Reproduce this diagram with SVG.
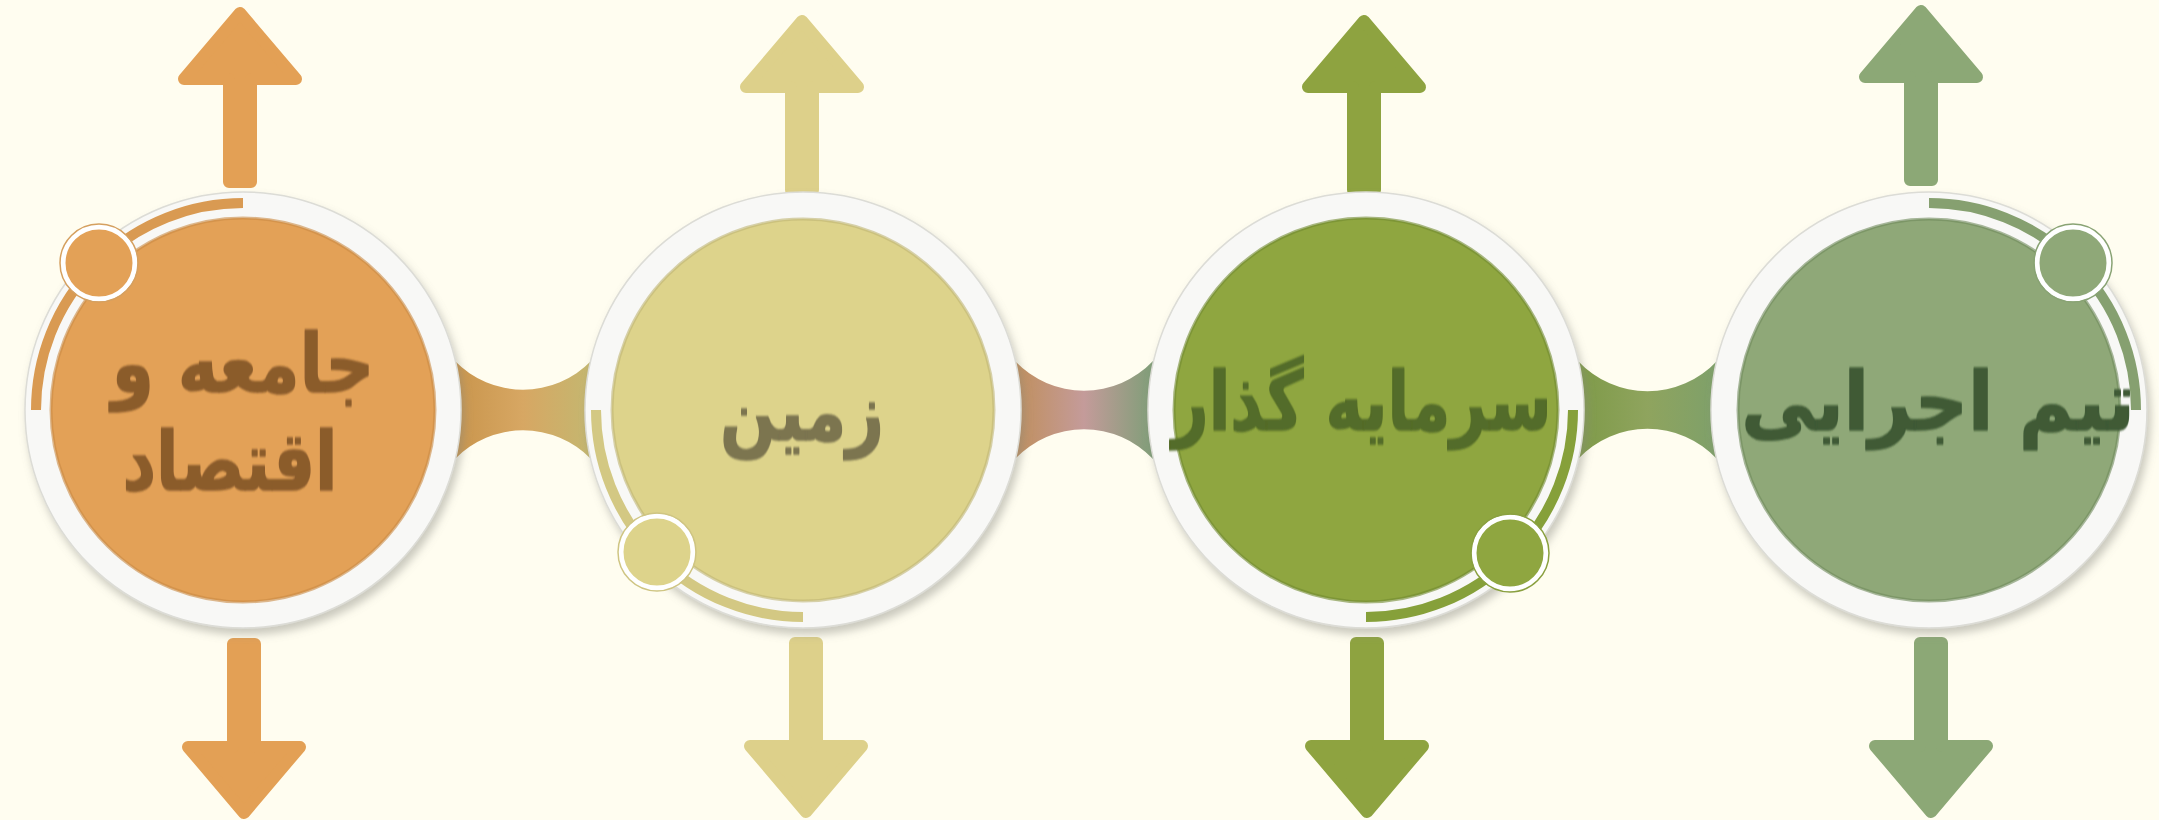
<svg xmlns="http://www.w3.org/2000/svg" xmlns:xlink="http://www.w3.org/1999/xlink" width="2159" height="820" viewBox="0 0 2159 820">
  <style>
    .ring { fill: #f8f8f6; stroke: #dcdcd6; stroke-width: 1.5; }
    .label { font-family: "DejaVu Sans", "Noto Sans", sans-serif; font-weight: bold; text-anchor: middle; font-size: 82px; stroke-width: 1.5; stroke-linejoin: round; }
    .arc { fill: none; stroke-width: 10; }
    .knobEdge { fill: none; stroke-width: 5; stroke: #ffffff; }
  </style>
  <defs>
    <filter id="plateShadow" x="-20%" y="-20%" width="140%" height="140%">
      <feDropShadow dx="3" dy="6" stdDeviation="4" flood-color="#8a8a80" flood-opacity="0.45"/>
    </filter>
    <filter id="textSoft" x="-10%" y="-20%" width="120%" height="140%">
      <feGaussianBlur stdDeviation="0.8"/>
    </filter>
    <path id="arrowUp" d="M0,6 L56,72 L11,72 L11,175 L-11,175 L-11,72 L-56,72 Z" stroke-width="12" stroke-linejoin="round"/>
    <linearGradient id="g1" x1="0" y1="0" x2="1" y2="0">
      <stop offset="0" stop-color="#c9954c"/>
      <stop offset="0.5" stop-color="#d7a763"/>
      <stop offset="1" stop-color="#c4b770"/>
    </linearGradient>
    <linearGradient id="g2" x1="0" y1="0" x2="1" y2="0">
      <stop offset="0" stop-color="#c08f5c"/>
      <stop offset="0.5" stop-color="#c49b9a"/>
      <stop offset="1" stop-color="#7f9e78"/>
    </linearGradient>
    <linearGradient id="g3" x1="0" y1="0" x2="1" y2="0">
      <stop offset="0" stop-color="#7e9a48"/>
      <stop offset="0.5" stop-color="#8fa45e"/>
      <stop offset="1" stop-color="#7ea06a"/>
    </linearGradient>
  </defs>

  <rect width="2159" height="820" fill="#fffdf0"/>

  <g id="connectors">
    <path d="M455,361 A95,95 0 0 0 591,361 L591,459 A95,95 0 0 0 455,459 Z" fill="url(#g1)"/>
    <path d="M1015,361 A95,95 0 0 0 1153,361 L1153,459 A95,95 0 0 0 1015,459 Z" fill="url(#g2)"/>
    <path d="M1578,361 A95,95 0 0 0 1717,361 L1717,459 A95,95 0 0 0 1578,459 Z" fill="url(#g3)"/>
  </g>

  <g id="node-1">
    <use xlink:href="#arrowUp" href="#arrowUp" transform="translate(240,7)" fill="#e3a055" stroke="#e3a055"/>
    <use xlink:href="#arrowUp" href="#arrowUp" transform="translate(244,819) scale(1,-1)" fill="#e3a055" stroke="#e3a055"/>
    <circle class="ring" cx="243" cy="410" r="218" filter="url(#plateShadow)"/>
    <path class="arc" d="M243,203 A207,207 0 0 0 36,410" stroke="#d99a52"/>
    <circle cx="243" cy="410" r="192" fill="#e3a157" stroke="#c98a45" stroke-width="3" stroke-opacity="0.6"/>
    <circle cx="99" cy="263" r="36" fill="#e3a157"/>
    <circle class="knobEdge" cx="99" cy="263" r="36"/>
    <circle cx="99" cy="263" r="39" fill="none" stroke="#d5a060" stroke-width="1.5"/>
    <text class="label" transform="translate(243,392) scale(0.83,1)" fill="#8b5c2c" stroke="#8b5c2c" filter="url(#textSoft)">جامعه و</text>
    <text class="label" transform="translate(230,490) scale(0.8,1)" fill="#8b5c2c" stroke="#8b5c2c" filter="url(#textSoft)">اقتصاد</text>
  </g>

  <g id="node-2">
    <use xlink:href="#arrowUp" href="#arrowUp" transform="translate(802,15)" fill="#ddd08a" stroke="#ddd08a"/>
    <use xlink:href="#arrowUp" href="#arrowUp" transform="translate(806,818) scale(1,-1)" fill="#ddd08a" stroke="#ddd08a"/>
    <circle class="ring" cx="803" cy="410" r="218" filter="url(#plateShadow)"/>
    <path class="arc" d="M596,410 A207,207 0 0 0 803,617" stroke="#d3c883"/>
    <circle cx="803" cy="410" r="191" fill="#ddd38b" stroke="#bfb575" stroke-width="3" stroke-opacity="0.6"/>
    <circle cx="657" cy="552" r="36" fill="#ddd38b"/>
    <circle class="knobEdge" cx="657" cy="552" r="36"/>
    <circle cx="657" cy="552" r="39" fill="none" stroke="#cfc583" stroke-width="1.5"/>
    <text class="label" transform="translate(802,440) scale(0.8,1)" fill="#7b7450" stroke="#7b7450" filter="url(#textSoft)">زمین</text>
  </g>

  <g id="node-3">
    <use xlink:href="#arrowUp" href="#arrowUp" transform="translate(1364,15)" fill="#8ea340" stroke="#8ea340"/>
    <use xlink:href="#arrowUp" href="#arrowUp" transform="translate(1367,818) scale(1,-1)" fill="#8ea340" stroke="#8ea340"/>
    <circle class="ring" cx="1366" cy="410" r="218" filter="url(#plateShadow)"/>
    <path class="arc" d="M1366,617 A207,207 0 0 0 1573,410" stroke="#86a03a"/>
    <circle cx="1366" cy="410" r="192" fill="#8fa640" stroke="#728a30" stroke-width="3" stroke-opacity="0.6"/>
    <circle cx="1510" cy="553" r="36" fill="#8fa640"/>
    <circle class="knobEdge" cx="1510" cy="553" r="36"/>
    <circle cx="1510" cy="553" r="39" fill="none" stroke="#8aa040" stroke-width="1.5"/>
    <text class="label" transform="translate(1362,430) scale(0.77,1)" fill="#536c29" stroke="#536c29" filter="url(#textSoft)">سرمایه گذار</text>
  </g>

  <g id="node-4">
    <use xlink:href="#arrowUp" href="#arrowUp" transform="translate(1921,5)" fill="#8ca876" stroke="#8ca876"/>
    <use xlink:href="#arrowUp" href="#arrowUp" transform="translate(1931,818) scale(1,-1)" fill="#8ca876" stroke="#8ca876"/>
    <circle class="ring" cx="1929" cy="410" r="218" filter="url(#plateShadow)"/>
    <path class="arc" d="M2136,410 A207,207 0 0 0 1929,203" stroke="#86a070"/>
    <circle cx="1929" cy="410" r="191" fill="#8fa878" stroke="#6f8a5c" stroke-width="3" stroke-opacity="0.6"/>
    <circle cx="2073" cy="263" r="36" fill="#8fa878"/>
    <circle class="knobEdge" cx="2073" cy="263" r="36"/>
    <circle cx="2073" cy="263" r="39" fill="none" stroke="#89a374" stroke-width="1.5"/>
    <text class="label" transform="translate(1938,430) scale(0.9,1)" fill="#3f5a36" stroke="#3f5a36" filter="url(#textSoft)">تیم اجرایی</text>
  </g>
</svg>
